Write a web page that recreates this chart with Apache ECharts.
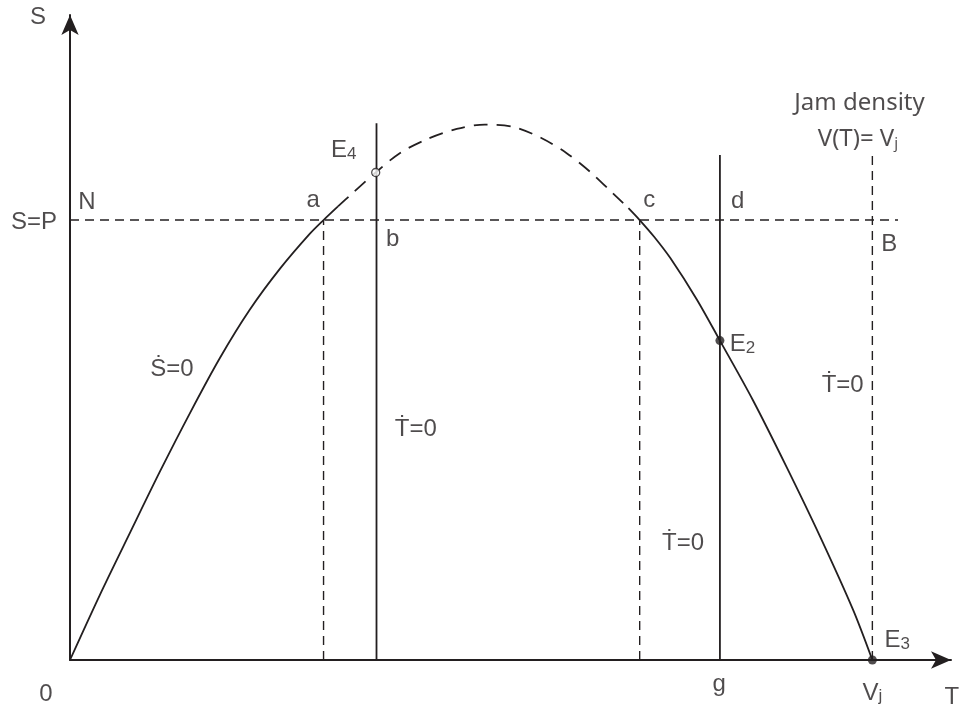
<!DOCTYPE html>
<html>
<head>
<meta charset="utf-8">
<script src="https://cdn.jsdelivr.net/npm/echarts@6/dist/echarts.min.js"></script>
<style>
  html, body { margin: 0; padding: 0; background: #fff; }
  #chart { width: 963px; height: 711px; }
</style>
</head>
<body>
<div id="chart"></div>
<script>
// S = 0 curve as (T, S) points
const curveLeft = [[0, 0], [0.37, 1.47], [0.75, 2.9], [1.12, 4.28], [1.5, 5.63], [1.87, 6.87],
  [2.24, 7.96], [2.62, 8.9], [2.99, 9.69], [3.16, 10], [3.34, 10.31]]
const curveTop = [[3.34, 10.31], [3.49, 10.56], [3.81, 11.08], [4.11, 11.52], [4.44, 11.83], [4.82, 12.07],
  [5.17, 12.17], [5.52, 12.12], [5.88, 11.86], [6.19, 11.52], [6.48, 11.1], [6.77, 10.6], [6.96, 10.27]]
const curveRight = [[6.96, 10.27], [7.1, 10], [7.28, 9.62], [7.48, 9.14], [7.81, 8.2], [8.1, 7.26],
  [8.51, 5.91], [8.93, 4.39], [9.35, 2.8], [9.76, 1.14], [10, 0]]

// reference levels
const levelP = 10          // S = P
const levelPEnd = 10.32
const tA = 3.16, tB = 3.82, tC = 7.1, tG = 8.1, tVj = 10
const topB = 12.2, topG = 11.48, topVj = 11.55

// equilibria
const ptE4 = [3.81, 11.08]
const ptE2 = [8.1, 7.26]
const ptE3 = [10, 0]

// axis extents
const xMax = 10.98
const yMax = 14.66

// text notes: [T, S, text]
const notes = [
  [-0.4, 14.61, 'S'],
  [-0.45, 9.95, 'S=P'],
  [0.21, 10.39, 'N'],
  [3.03, 10.45, 'a'],
  [3.41, 11.58, '{m|E}{s|4}'],
  [4.02, 9.55, 'b'],
  [7.22, 10.45, 'c'],
  [8.32, 10.42, 'd'],
  [10.21, 9.45, 'B'],
  [1.27, 6.6, 'Ṡ=0'],
  [4.31, 5.24, 'Ṫ=0'],
  [7.64, 2.66, 'Ṫ=0'],
  [9.63, 6.25, 'Ṫ=0'],
  [8.38, 7.17, '{m|E}{s|2}'],
  [10.31, 0.44, '{m|E}{s|3}'],
  [-0.3, -0.77, '0'],
  [8.09, -0.55, 'g'],
  [10.0, -0.75, '{m|V}{s|j}'],
  [10.99, -0.84, 'T']
]
const jamNotes = [
  [9.84, 12.66, 'Jam density'],
  [9.82, 11.84, '{m|V(T)= V}{s|j}']
]

const ink = '#231f20'
const dash = [9, 6]
const curveDash = [14, 9]

function seg(data, type, width) {
  return {
    type: 'line', data: data, symbol: 'none', silent: true,
    lineStyle: { color: ink, width: width || 1.8, type: type || 'solid' }
  }
}
function curve(data, type) {
  const s = seg(data, type, 1.8)
  s.smooth = 0.3
  return s
}

const mainFont = 'Liberation Sans'
const richSub = {
  m: { fontSize: 24, lineHeight: 24, padding: [0, 0, 8, 0], verticalAlign: 'top', color: ink, fontFamily: mainFont },
  s: { fontSize: 17, lineHeight: 17, verticalAlign: 'bottom', color: ink, fontFamily: mainFont }
}

const chart = echarts.init(document.getElementById('chart'))
chart.setOption({
  animation: false,
  backgroundColor: '#fff',
  grid: { left: 70, right: 12, top: 15, bottom: 51 },
  xAxis: {
    type: 'value', min: 0, max: xMax,
    axisLine: { symbol: ['none', 'arrow'], symbolSize: [13, 20], lineStyle: { color: ink, width: 2 } },
    axisTick: { show: false }, axisLabel: { show: false }, splitLine: { show: false }
  },
  yAxis: {
    type: 'value', min: 0, max: yMax,
    axisLine: { show: true, symbol: ['none', 'arrow'], symbolSize: [13, 20], lineStyle: { color: ink, width: 2 } },
    axisTick: { show: false }, axisLabel: { show: false }, splitLine: { show: false }
  },
  series: [
    curve(curveLeft),
    curve(curveTop, curveDash),
    curve(curveRight),
    seg([[0, levelP], [levelPEnd, levelP]], dash, 1.4),
    seg([[tA, 0], [tA, levelP]], dash, 1.4),
    seg([[tC, 0], [tC, levelP]], dash, 1.4),
    seg([[tVj, 0], [tVj, topVj]], dash, 1.4),
    seg([[tB, 0], [tB, topB]], 'solid', 1.8),
    seg([[tG, 0], [tG, topG]], 'solid', 1.8),
    {
      type: 'scatter', data: [ptE2, ptE3], symbolSize: 9, z: 5,
      itemStyle: { color: ink }
    },
    {
      type: 'scatter', data: [ptE4], symbolSize: 8, z: 5,
      itemStyle: { color: '#fff', borderColor: ink, borderWidth: 1.3 }
    },
    {
      type: 'scatter', clip: false, symbolSize: 0, z: 6, silent: true,
      data: notes.map(n => ({ value: [n[0], n[1]], name: n[2] })),
      label: {
        show: true, position: 'inside', formatter: p => p.name,
        fontFamily: mainFont, fontSize: 24, color: ink, rich: richSub
      }
    },
    {
      type: 'scatter', clip: false, symbolSize: 0, z: 6, silent: true,
      data: jamNotes.map(n => ({ value: [n[0], n[1]], name: n[2] })),
      label: {
        show: true, position: 'inside', formatter: p => p.name,
        fontFamily: 'Noto Sans', fontSize: 24, color: ink,
        rich: {
          m: { fontSize: 24, lineHeight: 24, padding: [0, 0, 7, 0], verticalAlign: 'top', color: ink, fontFamily: 'Noto Sans' },
          s: { fontSize: 15, lineHeight: 15, verticalAlign: 'bottom', color: ink, fontFamily: 'Noto Sans' }
        }
      }
    }
  ]
})
</script>
</body>
</html>
